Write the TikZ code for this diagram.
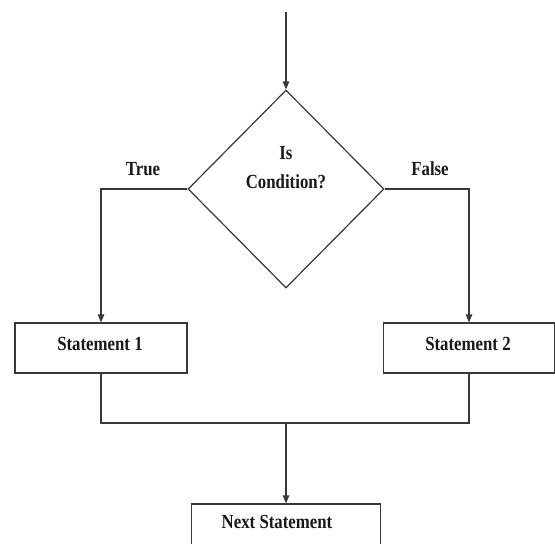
\documentclass[tikz,border=0pt]{standalone}
\usepackage{fontspec}
\setmainfont{Liberation Serif}[FakeStretch=0.84]
\usetikzlibrary{shapes.geometric,arrows.meta}
\begin{document}
\begin{tikzpicture}[x=1pt,y=-1pt,
  line/.style={draw=black!78,line width=1.2pt},
  flow/.style={line,-{Triangle[length=8pt,width=6.5pt]}},
  stepbox/.style={line,rectangle,inner sep=0pt},
  decision/.style={line,diamond,inner sep=0pt,aspect=1},
  lbl/.style={font=\fontsize{20}{29}\selectfont\bfseries,text=black!90,inner sep=0pt,align=center}]
  \useasboundingbox (0,0) rectangle (555,544);
  \clip (0,0) rectangle (555,544);
  \fill[white] (0,0) rectangle (555,544);

  % decision diamond
  \node[decision,minimum width=196pt,minimum height=198pt] (cond) at (286,189) {};
  \node[lbl] (condtext) at (286,168) {Is\\Condition?};
  \node[lbl] (truelbl) at (143,169) {True};
  \node[lbl] (falselbl) at (430,169) {False};

  % statement boxes
  \node[stepbox,minimum width=172pt,minimum height=50pt] (s1) at (101,348) {};
  \node[lbl] (s1text) at (100,344) {Statement 1};
  \node[stepbox,minimum width=171pt,minimum height=50pt] (s2) at (469,348) {};
  \node[lbl] (s2text) at (468,344) {Statement 2};
  \node[stepbox,minimum width=189pt,minimum height=70pt] (next) at (286,539) {};
  \node[lbl] (nexttext) at (277,522) {Next Statement};

  \coordinate (start) at (286,12);
  \coordinate (join) at (286,423);

  % connectors
  \draw[flow] (start) -- (cond.north);
  \draw[flow] (cond.west) -| (s1.north);
  \draw[flow] (cond.east) -| (s2.north);
  \draw[line] (s1.south) -- (s1.south |- join) -- (s2.south |- join) -- (s2.south);
  \draw[flow] (join) -- (next.north);
\end{tikzpicture}
\end{document}
